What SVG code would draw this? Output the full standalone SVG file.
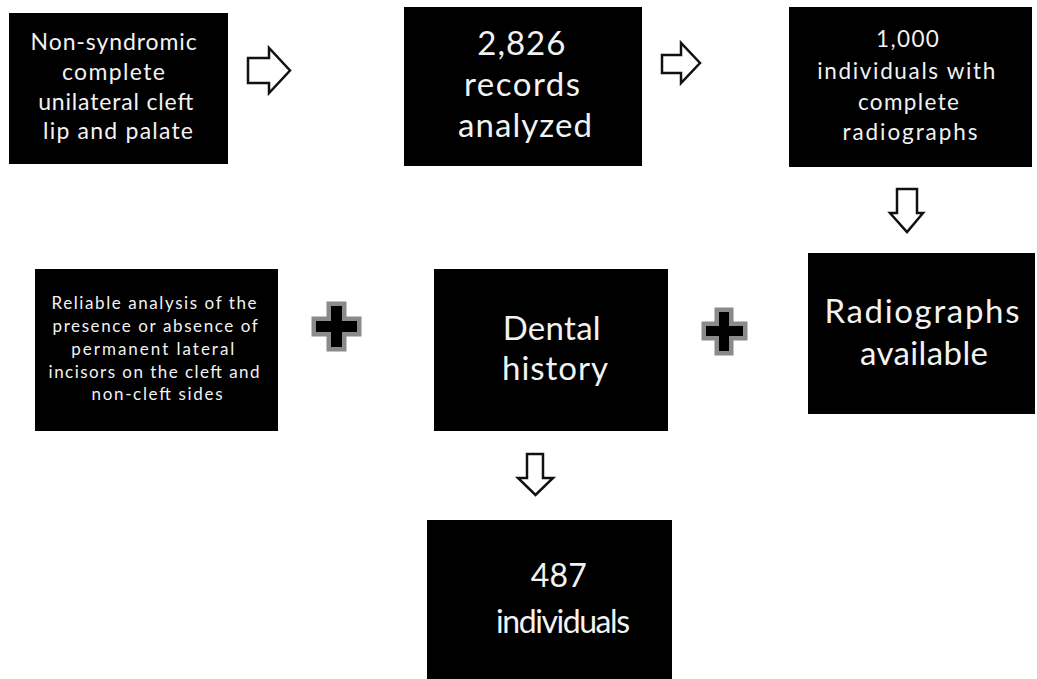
<svg xmlns="http://www.w3.org/2000/svg" width="1037" height="679" viewBox="0 0 1037 679">
<style>
.box{fill:#000}
.t{fill:#f2f2f2;font-family:Lato,"Open Sans","Liberation Sans",sans-serif;text-anchor:middle}
.arrow{fill:#fff;stroke:#111;stroke-width:2.5;stroke-linejoin:miter}
.plus{fill:#000;stroke:#8a8a8a;stroke-width:9;paint-order:stroke;stroke-linejoin:miter}
</style>
<rect width="1037" height="679" fill="#fff"/>
<g id="n1">
<rect class="box" x="9" y="13" width="219" height="151"/>
<text class="t" font-size="23" lengthAdjust="spacingAndGlyphs">
<tspan x="117" y="50" textLength="166">Non-syndromic</tspan>
<tspan x="117" y="80" textLength="103">complete</tspan>
<tspan x="119" y="110" textLength="155">unilateral cleft</tspan>
<tspan x="118" y="139" textLength="150">lip and palate</tspan>
</text>
</g>
<g id="n2">
<rect class="box" x="404" y="7" width="238" height="159"/>
<text class="t" font-size="33" lengthAdjust="spacingAndGlyphs">
<tspan x="526" y="55" textLength="88">2,826</tspan>
<tspan x="527" y="96" textLength="116">records</tspan>
<tspan x="525" y="137" textLength="134">analyzed</tspan>
</text>
</g>
<g id="n3">
<rect class="box" x="789" y="7" width="243" height="160"/>
<text class="t" font-size="22.5" lengthAdjust="spacingAndGlyphs">
<tspan x="911" y="47" textLength="63">1,000</tspan>
<tspan x="910" y="79" textLength="178">individuals  with</tspan>
<tspan x="912" y="110" textLength="101">complete</tspan>
<tspan x="910" y="140" textLength="135">radiographs</tspan>
</text>
</g>
<g id="n4">
<rect class="box" x="808" y="253" width="227" height="161"/>
<text class="t" font-size="33" lengthAdjust="spacingAndGlyphs">
<tspan x="927" y="323" textLength="195">Radiographs</tspan>
<tspan x="924" y="365" textLength="128">available</tspan>
</text>
</g>
<g id="n5">
<rect class="box" x="434" y="269" width="234" height="162"/>
<text class="t" font-size="33" lengthAdjust="spacingAndGlyphs">
<tspan x="556" y="340" textLength="98">Dental</tspan>
<tspan x="555" y="380" textLength="106">history</tspan>
</text>
</g>
<g id="n6">
<rect class="box" x="35" y="269" width="243" height="162"/>
<text class="t" font-size="17" lengthAdjust="spacingAndGlyphs">
<tspan x="157" y="309" textLength="205">Reliable analysis of the</tspan>
<tspan x="158" y="332" textLength="205">presence or absence of</tspan>
<tspan x="156" y="355" textLength="163">permanent lateral</tspan>
<tspan x="157" y="378" textLength="211">incisors on the cleft and</tspan>
<tspan x="157" y="400" textLength="131">non-cleft sides</tspan>
</text>
</g>
<g id="n7">
<rect class="box" x="427" y="520" width="245" height="159"/>
<text class="t" font-size="32" lengthAdjust="spacingAndGlyphs">
<tspan x="563" y="587" textLength="56">487</tspan>
<tspan x="563" y="633" textLength="134">individuals</tspan>
</text>
</g>
<g id="connectors">
<path class="arrow" d="M248,58 H269 V48 L290,70.5 L269,93 V83 H248 Z"/>
<path class="arrow" d="M662,55 H681 V43 L700,63 L681,83 V73 H662 Z"/>
<path class="arrow" d="M897,189 H917 V213 H923 L907,232 L890,213 H897 Z"/>
<path class="arrow" d="M527,454 H543 V478 H553 L535.5,495 L518,478 H527 Z"/>
<path class="plus" d="M331,306 H342 V321 H357 V332 H342 V347 H331 V332 H316 V321 H331 Z"/>
<path class="plus" d="M719,312 H729 V326 H743 V336 H729 V351 H719 V336 H706 V326 H719 Z"/>
</g>
</svg>
